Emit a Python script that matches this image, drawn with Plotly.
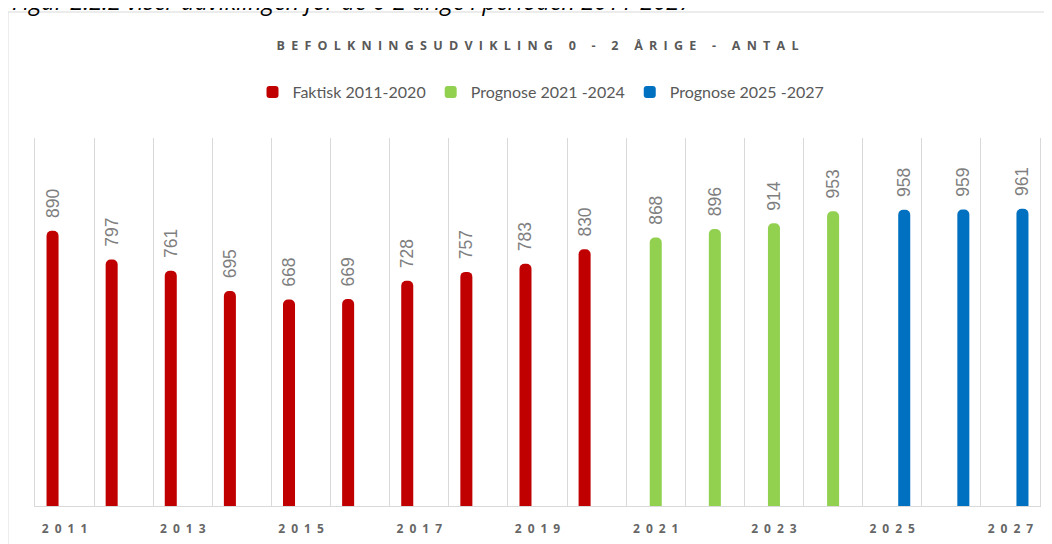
import plotly.graph_objects as go

# ---- data ----
years_faktisk = [2011, 2012, 2013, 2014, 2015, 2016, 2017, 2018, 2019, 2020]
values_faktisk = [890, 797, 761, 695, 668, 669, 728, 757, 783, 830]
years_prog1 = [2021, 2022, 2023, 2024]
values_prog1 = [868, 896, 914, 953]
years_prog2 = [2025, 2026, 2027]
values_prog2 = [958, 959, 961]
all_years = years_faktisk + years_prog1 + years_prog2
tick_years = all_years[::2]

series_names = ["Faktisk 2011-2020", "Prognose 2021 -2024", "Prognose 2025 -2027"]
series_colors = ["#C00000", "#92D050", "#0070C0"]

title_text = "BEFOLKNINGSUDVIKLING 0 - 2 ÅRIGE - ANTAL"
caption_text = "Figur 2.2.2 viser udviklingen for de 0-2 årige i perioden 2011-2027"


def spaced(s, sep="\u2002"):
    return sep.join(s)


# the page body has an 8px margin, so the figure is drawn 8px smaller
W, H = 1044, 536
L, R, T, B = 27, 12, 130, 38
pw, ph = W - L - R, H - T - B


def px_x(p):
    return (p - L) / pw


def px_y(p):
    return (H - B - p) / ph


fig = go.Figure()
for name, xs, ys, col in zip(series_names,
                             [years_faktisk, years_prog1, years_prog2],
                             [values_faktisk, values_prog1, values_prog2],
                             series_colors):
    lookup = dict(zip(xs, ys))
    full_y = [lookup.get(yr) for yr in all_years]
    fig.add_trace(go.Bar(
        name=name, x=all_years, y=full_y, marker=dict(color=col, line=dict(width=0)),
        texttemplate="\u00a0\u00a0%{y}", textposition="outside", textangle=-90,
        constraintext="none", cliponaxis=False,
        textfont=dict(family="Liberation Sans", size=17.5, color="#7f7f7f"),
    ))

fig.update_layout(
    width=W, height=H,
    margin=dict(l=L, r=R, t=T, b=B, autoexpand=False),
    paper_bgcolor="white", plot_bgcolor="white",
    barmode="group", bargap=0.39, bargroupgap=0, barcornerradius=5,
    font=dict(family="Open Sans", color="#595959"),
    title=dict(text="<b>" + spaced(title_text) + "</b>", x=0.5, xref="paper",
               xanchor="center", y=1 - 38 / H, yanchor="middle",
               font=dict(family="Open Sans", size=12.5, color="#595959")),
    legend=dict(orientation="h", x=px_x(533), xanchor="center", y=px_y(84),
                yanchor="middle", font=dict(family="Lato", size=16, color="#595959"),
                bgcolor="rgba(0,0,0,0)"),
    xaxis=dict(type="linear", range=[all_years[0] - 0.5, all_years[-1] + 0.5],
               tickmode="array", tickvals=tick_years,
               ticktext=["<b>" + spaced(str(y)) + "</b>" for y in tick_years],
               tickfont=dict(family="Open Sans", size=12, color="#666666"),
               ticklabelstandoff=12,
               showgrid=False, zeroline=False, showline=True, linecolor="#d9d9d9",
               linewidth=1, ticks="",
               minor=dict(tickmode="array", tickvals=[y + 0.5 for y in all_years[:-1]],
                          showgrid=True, gridcolor="#d9d9d9", gridwidth=1, ticks="")),
    yaxis=dict(range=[0, 1190], showticklabels=False, showgrid=False, zeroline=False,
               showline=True, mirror=True, linecolor="#d9d9d9", linewidth=1, ticks=""),
    shapes=[dict(type="rect", xref="paper", yref="paper",
                 x0=px_x(0), x1=px_x(1040), y0=px_y(560), y1=px_y(4),
                 line=dict(color="#d9d9d9", width=1), fillcolor="rgba(0,0,0,0)",
                 layer="below")],
    annotations=[dict(text="<i>" + caption_text + "</i>", xref="paper", yref="paper",
                      x=px_x(344), y=px_y(11), xanchor="center", yanchor="bottom",
                      showarrow=False,
                      font=dict(family="Open Sans", size=23.5, color="#000000"))],
)

fig.write_html("out.html")
